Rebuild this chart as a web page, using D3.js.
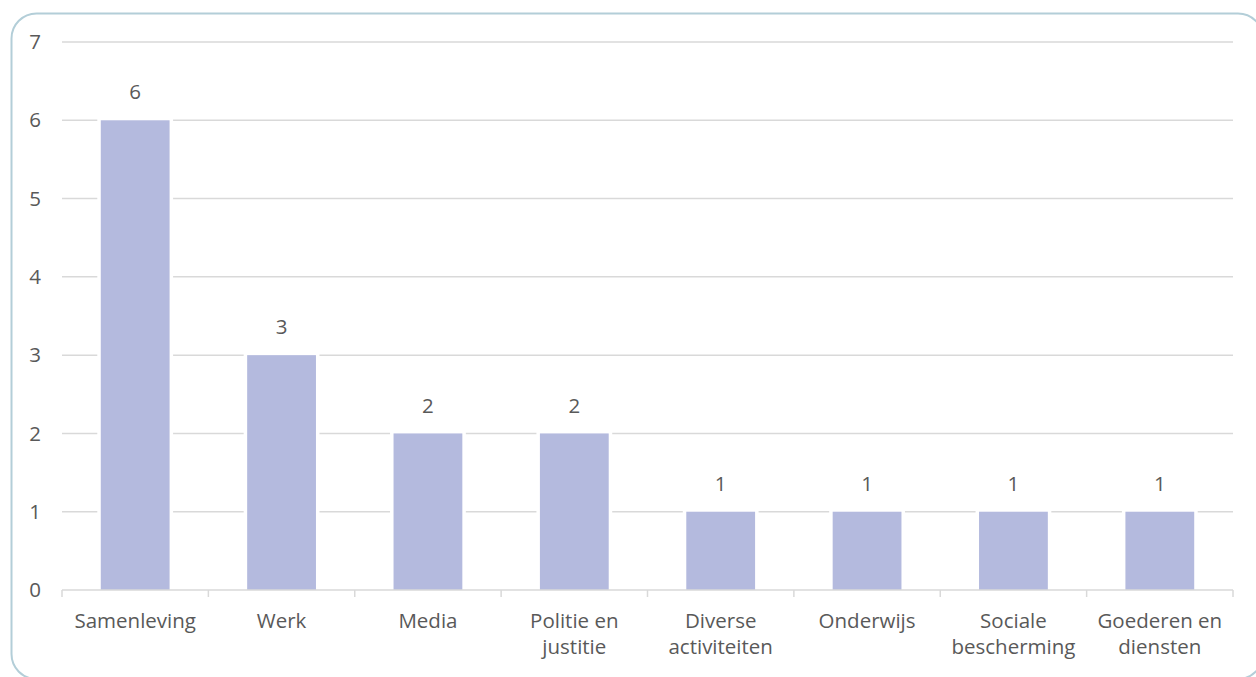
<!DOCTYPE html>
<html><head><meta charset="utf-8">
<script src="https://cdn.jsdelivr.net/npm/d3@7"></script>
<style>body{margin:0;background:#fff;}svg{display:block;}</style>
</head><body>
<script>
const categories = ["Samenleving","Werk","Media","Politie en justitie","Diverse activiteiten","Onderwijs","Sociale bescherming","Goederen en diensten"];
const labelLines = [["Samenleving"],["Werk"],["Media"],["Politie en","justitie"],["Diverse","activiteiten"],["Onderwijs"],["Sociale","bescherming"],["Goederen en","diensten"]];
const values = [6,3,2,2,1,1,1,1];
const yTicks = [0,1,2,3,4,5,6,7];

(function(){
const W=1256,H=677;
const svg=d3.select("body").append("svg").attr("width",W).attr("height",H);
const font="'Open Sans', sans-serif";
const txt="#595959";
const fs=20.5;

svg.append("rect").attr("x",11.5).attr("y",13.5).attr("width",1251.5).attr("height",665.5)
  .attr("rx",25).attr("fill","#fff").attr("stroke","#b3ced8").attr("stroke-width",2);

const pl=62,pr=1233,pt=42,pb=590;
const x=d3.scaleBand().domain(categories).range([pl,pr]).paddingInner(0.53).paddingOuter(0.265);
const y=d3.scaleLinear().domain([0,7]).range([pb,pt]);

svg.append("g").selectAll("line").data(yTicks.filter(d=>d>0)).join("line")
  .attr("x1",pl).attr("x2",pr).attr("y1",d=>y(d)).attr("y2",d=>y(d))
  .attr("stroke","#d9d9d9").attr("stroke-width",1.5);

svg.append("g").selectAll("rect").data(values).join("rect")
  .attr("x",(d,i)=>x(categories[i])).attr("width",x.bandwidth())
  .attr("y",d=>y(d)).attr("height",d=>pb-y(d))
  .attr("fill","#b4bade").attr("stroke","#fff").attr("stroke-width",7).attr("paint-order","stroke");

const step=(pr-pl)/categories.length;
svg.append("line").attr("x1",pl).attr("x2",pr).attr("y1",pb).attr("y2",pb)
  .attr("stroke","#d9d9d9").attr("stroke-width",1.5);
svg.append("g").selectAll("line").data(d3.range(categories.length+1)).join("line")
  .attr("x1",i=>pl+i*step).attr("x2",i=>pl+i*step).attr("y1",pb).attr("y2",pb+7)
  .attr("stroke","#d9d9d9").attr("stroke-width",1.5);

svg.append("g").selectAll("text").data(yTicks).join("text")
  .attr("x",35).attr("y",d=>y(d)).attr("dy","0.35em").attr("text-anchor","middle")
  .attr("font-family",font).attr("font-size",fs).attr("fill",txt).text(d=>d);

svg.append("g").selectAll("text").data(values).join("text")
  .attr("x",(d,i)=>x(categories[i])+x.bandwidth()/2).attr("y",d=>y(d)-28).attr("dy","0.35em")
  .attr("text-anchor","middle").attr("font-family",font).attr("font-size",fs).attr("fill",txt).text(d=>d);

const cl=svg.append("g").selectAll("text").data(categories).join("text")
  .attr("x",d=>x(d)+x.bandwidth()/2).attr("y",621)
  .attr("text-anchor","middle").attr("font-family",font).attr("font-size",fs).attr("fill",txt);
cl.each(function(d,i){
  const t=d3.select(this);
  labelLines[i].forEach((ln,j)=>{
    t.append("tspan").attr("x",x(d)+x.bandwidth()/2).attr("dy",j===0?"0.35em":"26px").text(ln);
  });
});
})();
</script>
</body></html>
